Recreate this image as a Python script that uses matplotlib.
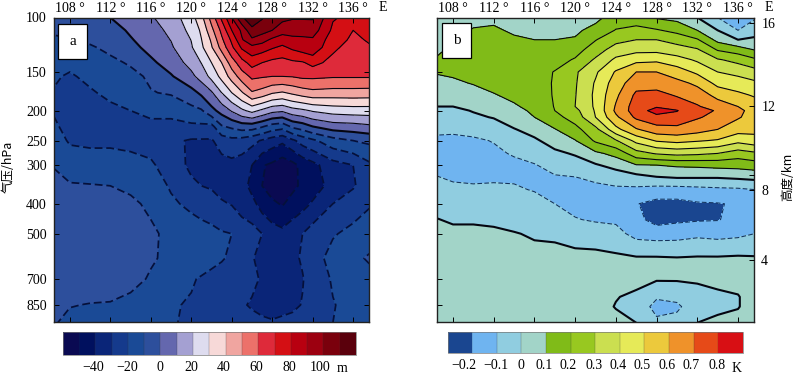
import numpy as np
import matplotlib
matplotlib.use("Agg")
import matplotlib.pyplot as plt
from matplotlib.patches import Rectangle
from matplotlib.transforms import ScaledTranslation

SERIF = ["Liberation Serif", "DejaVu Serif"]
CJK = ["Noto Sans CJK SC", "DejaVu Sans"]
plt.rcParams["font.family"] = SERIF

lon_labels = [108, 112, 116, 120, 124, 128, 132, 136]
pressure_ticks = [100, 150, 200, 250, 300, 400, 500, 700, 850]
height_labels = ["16", "12", "8", "4"]
height_label_pressure = [104.5, 193, 361, 608]

# --- panel a: geopotential height anomaly (m)
a_levels = [-50, -40, -30, -20, -10, 0, 10, 20, 30, 40, 50, 60, 70, 80, 90, 100, 110]
a_colors = ["#0a0a52", "#00105e", "#0a2578", "#153a8c", "#1a4a96", "#2d4f9c", "#6467ae",
            "#a4a0d2", "#dedcef", "#f7d9d8", "#f0a5a0", "#ec716a", "#de2a3a", "#d40f14",
            "#b80010", "#9c0010", "#7a000c", "#5a000c"]
a_lon = [106.4, 108, 110, 112, 114, 116, 118, 120, 121, 122, 123, 124, 125, 126, 127, 128, 129, 130, 131, 132, 134, 136, 137.6]
a_p = [100, 110, 118, 125, 140, 155, 175, 200, 225, 250, 300, 350, 400, 500, 600, 700, 850, 970]
a_p100 = [-6, -6, -2.5, 0, 4.5, 9, 15, 26, 37, 54, 72, 90, 109, 115, 111, 105, 103, 101, 101, 101, 81, 77, 78]
a_p110 = [-9, -8, -5, -4, 1.4, 6.5, 12, 23, 31.6, 47, 62.5, 80, 92, 108, 104, 100, 94, 94, 94, 95, 78, 70, 73]
a_p118 = [-11, -10.5, -8.5, -6, -0.8, 4.7, 10.3, 20.3, 29.7, 41.5, 58, 72, 89, 98, 94, 88, 85, 87.5, 88, 88.5, 75, 68, 71]
a_p125 = [-13, -13, -11, -8, -3, 3, 8.7, 18.9, 28, 39, 53.5, 68, 81.5, 87, 85, 81, 78, 82, 85, 87, 72, 66, 69]
a_p140 = [-17, -18, -15, -12, -9, -2, 4.5, 13.3, 20.3, 30, 40, 55, 66, 74, 70, 67, 66, 68, 69, 73, 67, 63, 64.5]
a_p155 = [-19, -21, -18, -15, -12.5, -8.5, -1, 7.5, 14, 23, 33, 44, 55, 62, 61, 60, 60, 60.5, 62, 62, 61, 61, 61]
a_p175 = [-20.5, -23, -21, -18, -16, -10.5, -9, -3.5, 2, 8.7, 20, 30, 39, 49, 46, 41, 39, 42, 45, 47, 46, 46, 45.7]
a_p200 = [-21, -25, -25, -22, -20, -18, -17, -13, -11, -3, 3.5, 11, 18, 23, 18, 13, 11.5, 16, 18, 21, 24, 25, 25]
a_p225 = [-18, -24, -24, -24, -23, -22, -23, -22, -22, -23, -11, -8, -5, -5, -9, -14, -16, -8, -5, 0, 5, 6, 8]
a_p250 = [-16, -21, -22, -22, -23, -24, -28, -31, -31, -31, -25.5, -23, -24, -27, -31, -35, -38, -32, -26, -22, -14, -10, -8]
a_p300 = [-10.5, -15, -15, -15, -16, -18.5, -25, -32, -34, -35, -34, -33, -35, -40, -49, -52, -56, -53, -47, -43, -34, -30, -22]
a_p350 = [-7, -9, -9.5, -10, -12, -15.5, -21, -28, -30, -31, -33, -34, -36, -43, -50, -55, -57, -52.5, -48, -44, -37, -31, -25]
a_p400 = [-5, -5, -5, -5, -8, -12, -18.5, -22, -24, -26, -29, -30.5, -35, -37, -44, -48, -51, -46, -43, -39, -30, -25, -21]
a_p500 = [-3, -3, -2, -2, -4, -8, -13, -15, -16, -17, -19, -20, -23, -26, -30, -35, -37, -34, -30, -25, -21, -17, -14]
a_p600 = [-3, -3, -2, -2, -4.5, -9, -12, -14, -15, -17, -19, -22, -26, -29.5, -32, -34, -34, -32, -29, -25, -16, -12, -9]
a_p700 = [-3, -4, -4, -5, -7, -11, -14, -19, -21, -23, -25, -27, -29, -28, -31, -34, -34, -33, -30.5, -26, -19, -14, -13]
a_p850 = [-6, -9.5, -10.5, -10.8, -13, -16, -19, -21, -22, -23, -25, -27, -29, -31, -33, -34, -33, -32, -29.5, -26, -20.5, -17, -16]
a_p970 = [-9, -13, -13, -14, -16, -18, -19.5, -21, -22, -23, -24, -25, -26, -27, -28, -29, -28, -27, -26, -24, -20, -18, -17]

# --- panel b: temperature anomaly (K), one list per longitude
b_levels = [-0.2, -0.1, 0, 0.1, 0.2, 0.3, 0.4, 0.5, 0.6, 0.7, 0.8]
b_colors = ["#1a4690", "#6fb4f0", "#90cde0", "#a2d4c8", "#80bb18", "#98c820", "#cbdf50",
            "#e6ea58", "#ecc93c", "#ef922a", "#e64a18", "#d80f14"]
b_lon = [106.4, 108, 110, 112, 114, 116, 118, 120, 122, 124, 126, 128, 130, 132, 134, 136, 137.6]
b_p = [100, 110, 118, 127, 137, 150, 163, 178, 194, 200, 210, 230, 250, 275, 300, 330, 360, 400, 450, 500, 600, 700, 800, 860, 970]
b_e1064 = [.06, .07, .08, .09, .105, .105, .08, .04, 0, -.01, -.04, -.08, -.12, -.14, -.125, -.095, -.07, -.03, .003, .02, .04, .05, .05, .05, .05]
b_e108 = [.06, .08, .095, .11, .125, .115, .085, .045, 0, -.02, -.04, -.085, -.12, -.135, -.135, -.11, -.08, -.05, -.01, .02, .04, .05, .05, .05, .05]
b_e110 = [.08, .105, .125, .14, .15, .13, .105, .065, .02, .005, -.015, -.07, -.115, -.145, -.14, -.115, -.085, -.055, -.01, .02, .04, .05, .05, .05, .05]
b_e112 = [.085, .11, .13, .15, .16, .15, .125, .095, .05, .03, .005, -.05, -.095, -.12, -.14, -.11, -.085, -.055, -.015, .015, .04, .05, .05, .05, .05]
b_e114 = [.07, .09, .11, .13, .145, .15, .14, .12, .09, .075, .05, -.005, -.045, -.09, -.125, -.11, -.09, -.06, -.03, .005, .035, .05, .05, .05, .05]
b_e116 = [.06, .08, .1, .125, .145, .155, .15, .14, .125, .115, .1, .035, -.015, -.065, -.105, -.115, -.105, -.07, -.04, -.01, .03, .05, .05, .05, .05]
b_e118 = [.06, .08, .1, .125, .16, .205, .21, .21, .205, .2, .17, .095, .04, -.02, -.07, -.11, -.13, -.1, -.05, -.015, .03, .04, .05, .05, .05]
b_e120 = [.06, .08, .11, .16, .21, .285, .29, .295, .3, .27, .24, .17, .095, .01, -.045, -.105, -.14, -.125, -.095, -.04, .03, .04, .05, .05, .05]
b_e122 = [.07, .135, .195, .25, .315, .385, .41, .42, .415, .41, .4, .27, .215, .08, -.01, -.08, -.13, -.15, -.11, -.05, .03, .04, .04, .04, .04]
b_e124 = [.15, .205, .27, .345, .42, .51, .55, .58, .61, .62, .58, .47, .29, .13, .035, -.065, -.115, -.15, -.115, -.07, .02, .04, .005, -.005, .03]
b_e126 = [.165, .22, .3, .37, .47, .6, .66, .72, .75, .75, .72, .59, .43, .26, .095, -.04, -.12, -.195, -.17, -.13, .01, .03, -.02, -.04, 0]
b_e128 = [.09, .21, .3, .37, .48, .6, .66, .73, .79, .84, .77, .66, .51, .31, .1, -.01, -.14, -.23, -.24, -.14, .01, .01, -.09, -.13, -.08]
b_e130 = [.07, .17, .265, .34, .44, .55, .63, .69, .76, .805, .765, .67, .53, .33, .115, 0, -.14, -.23, -.22, -.135, .005, .01, -.08, -.115, -.07]
b_e132 = [0, .1, .21, .31, .385, .48, .58, .65, .71, .72, .71, .64, .51, .32, .12, 0, -.13, -.21, -.21, -.12, .01, .01, -.03, -.05, 0]
b_e134 = [-.1, 0, .07, .19, .31, .4, .47, .57, .65, .695, .67, .6, .49, .3, .13, 0, -.12, -.205, -.205, -.13, .01, .02, -.015, -.02, .02]
b_e136 = [-.14, -.1, 0, .15, .27, .37, .45, .52, .6, .62, .61, .54, .43, .25, .135, .01, -.115, -.19, -.17, -.12, .015, .03, -.005, -.005, .03]
b_e1376 = [-.11, -.05, .02, .095, .22, .34, .42, .49, .55, .57, .56, .53, .46, .28, .15, .02, -.1, -.14, -.13, -.1, .01, .03, .04, .04, .04]

a_z = np.array([a_p100, a_p110, a_p118, a_p125, a_p140, a_p155, a_p175, a_p200, a_p225, a_p250, a_p300,
                a_p350, a_p400, a_p500, a_p600, a_p700, a_p850, a_p970])
b_z = np.array([b_e1064, b_e108, b_e110, b_e112, b_e114, b_e116, b_e118, b_e120, b_e122, b_e124,
                b_e126, b_e128, b_e130, b_e132, b_e134, b_e136, b_e1376]).T

W, H = 800, 378
fig = plt.figure(figsize=(W / 100, H / 100), dpi=100)


def box(x0, y0, x1, y1):
    return [x0 / W, 1 - y1 / H, (x1 - x0) / W, (y1 - y0) / H]


def panel(pos, lon, p, z, levels, colors, dash_lw, dash_color):
    ax = fig.add_axes(box(*pos))
    cf = ax.contourf(lon, p, z, levels=levels, colors=colors[1:-1], extend="both")
    cf.cmap.set_under(colors[0])
    cf.cmap.set_over(colors[-1])
    cf.changed()
    widths = [1.5 if abs(v) < 1e-9 else (dash_lw if v < 0 else 0.8) for v in levels]
    lcolors = ["#050510" if v >= -1e-9 else dash_color for v in levels]
    styles = ["solid" if v >= -1e-9 else (0, (4.5, 2.2)) for v in levels]
    ax.contour(lon, p, z, levels=levels, colors=lcolors, linewidths=widths, linestyles=styles)
    ax.set_yscale("log")
    ax.set_xlim(106.4, 137.6)
    ax.set_ylim(966, 100)
    ax.set_xticks(lon_labels)
    ax.set_xticklabels([f"{v} °" for v in lon_labels], fontsize=10)
    ax.tick_params(axis="x", which="major", direction="in", length=3.5, width=0.7,
                   top=True, bottom=True, labeltop=True, labelbottom=False, pad=1.5)
    ax.set_yticks(pressure_ticks)
    ax.minorticks_off()
    for s in ax.spines.values():
        s.set_linewidth(1.0)
        s.set_color("#222222")
    return ax, cf


axa, cfa = panel((53.7, 17.5, 369.3, 322.2), a_lon, a_p, a_z, a_levels, a_colors, 1.25, "#05103a")
axa.set_yticklabels([str(v) for v in pressure_ticks], fontsize=10)
axa.tick_params(axis="y", which="major", direction="in", length=3.5, width=0.7,
                left=True, right=True, labelleft=True, pad=5)

axb, cfb = panel((436.7, 17.5, 754.3, 322.2), b_lon, b_p, b_z, b_levels, b_colors, 0.75, "#12305a")
axb.tick_params(axis="y", which="major", direction="in", length=3.5, width=0.7,
                left=True, right=False, labelleft=False)
rax = axb.twinx()
rax.set_yscale("log")
rax.set_ylim(966, 100)
rax.set_yticks(height_label_pressure + [323])
rax.set_yticklabels(height_labels + [""], fontsize=10)
rax.minorticks_off()
rax.tick_params(axis="y", which="major", direction="in", length=3.5, width=0.7, pad=5)
for s in rax.spines.values():
    s.set_visible(False)

for (x0, y0, x1, y1, t) in [(58.3, 24, 87.3, 58.7, "a"), (442.3, 23.3, 471, 57.7, "b")]:
    fig.add_artist(Rectangle((x0 / W, 1 - y1 / H), (x1 - x0) / W, (y1 - y0) / H,
                             transform=fig.transFigure, facecolor="white",
                             edgecolor="black", linewidth=0.9, zorder=5))
    fig.text((x0 + x1) / 2 / W, 1 - (y0 + y1) / 2 / H, t, fontsize=11, ha="center",
             va="center", zorder=6)

fig.text(383 / W, 1 - 7.5 / H, "E", fontsize=10, ha="center", va="center")
fig.text(769 / W, 1 - 7.5 / H, "E", fontsize=10, ha="center", va="center")
fig.text(8 / W, 1 - 167 / H, "气压/hPa", family=CJK, fontsize=9, rotation=90, ha="center", va="center")
fig.text(788 / W, 1 - 177 / H, "高度/km", family=CJK, fontsize=9, rotation=90, ha="center", va="center")


def cbar(pos, cf, levels, ticks, labels, unit, unit_x, shifts):
    cax = fig.add_axes(box(*pos))
    cb = fig.colorbar(cf, cax=cax, orientation="horizontal", extend="both", extendrect=True,
                      extendfrac=1 / (len(levels) - 1), drawedges=False)
    cb.set_ticks(ticks)
    cb.set_ticklabels(labels, fontsize=10)
    cb.ax.tick_params(length=0, pad=4)
    cb.ax.minorticks_off()
    cb.outline.set_linewidth(0.5)
    cb.outline.set_edgecolor("#777777")
    for v in levels:
        cax.axvline(v, color="#333333", linewidth=0.3, alpha=0.6)
    for lab, dx in zip(cax.get_xticklabels(), shifts):
        lab.set_transform(lab.get_transform() + ScaledTranslation(dx / 100, 0, fig.dpi_scale_trans))
    fig.text(unit_x / W, 1 - 368 / H, unit, fontsize=10, ha="center", va="center")
    return cb


cbar((62.7, 332.3, 356, 355), cfa, a_levels, [-40, -20, 0, 20, 40, 60, 80, 100],
     ["−40", "−20", "0", "20", "40", "60", "80", "100"], "m", 342,
     [-2, -1, -1, -2, -2, -2, -1, -3])
cbar((447.7, 331.7, 742.7, 353.3), cfb, b_levels, b_levels,
     ["−0.2", "−0.1", "0", "0.1", "0.2", "0.3", "0.4", "0.5", "0.6", "0.7", "0.8"], "K", 737,
     [-8, -1, -1, -2, -2, -1.5, -2, -2.5, -2, -2, -1.5])

fig.savefig("out.png", dpi=100)
